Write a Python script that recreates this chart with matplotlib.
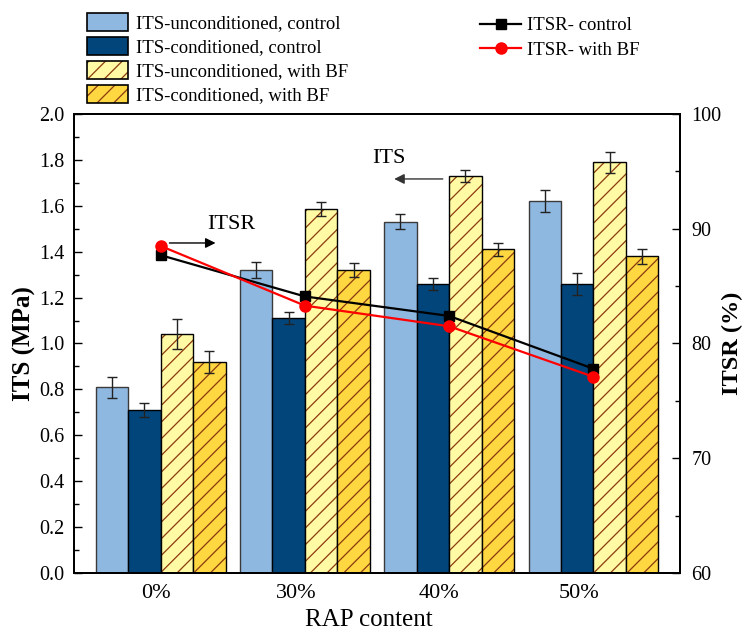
import numpy as np
import matplotlib
matplotlib.use('Agg')
import matplotlib.pyplot as plt
from matplotlib.patches import Patch
from matplotlib.lines import Line2D
from matplotlib.ticker import MultipleLocator, FormatStrFormatter

plt.rcParams['font.family'] = ['Liberation Serif', 'DejaVu Serif']
plt.rcParams['hatch.linewidth'] = 0.9

# RAP content groups
rap = ['0%', '30%', '40%', '50%']

# ITS (MPa) and std errors
its_unc_ctrl = [0.81, 1.32, 1.53, 1.62]
its_con_ctrl = [0.71, 1.11, 1.26, 1.26]
its_unc_bf = [1.04, 1.585, 1.73, 1.79]
its_con_bf = [0.92, 1.32, 1.41, 1.38]
err_unc_ctrl = [0.046, 0.033, 0.033, 0.049]
err_con_ctrl = [0.032, 0.026, 0.025, 0.047]
err_unc_bf = [0.065, 0.030, 0.026, 0.045]
err_con_bf = [0.047, 0.032, 0.030, 0.032]

# ITSR (%)
itsr_ctrl = [87.7, 84.1, 82.4, 77.8]
itsr_bf = [88.5, 83.3, 81.5, 77.1]

c_lblue = '#8fb8e0'
c_dblue = '#02457a'
c_lyel = '#fffaa3'
c_gold = '#ffd740'
c_hatch = '#8b3a10'

fig = plt.figure(figsize=(7.44, 6.32), dpi=100)
ax = fig.add_axes([0.0995, 0.0934, 0.8145, 0.7262])

x = np.arange(len(rap))
w = 0.225
ekw = dict(ecolor='#222222', elinewidth=1.0, capthick=1.0)

ax.bar(x - 1.5*w, its_unc_ctrl, w, color=c_lblue, edgecolor='#3a3a3a', linewidth=1.0,
       yerr=err_unc_ctrl, capsize=3.6, error_kw=ekw)
ax.bar(x - 0.5*w, its_con_ctrl, w, color=c_dblue, edgecolor='k', linewidth=1.0,
       yerr=err_con_ctrl, capsize=3.6, error_kw=ekw)

# hatch colour differs from the outline, so fill+hatch first, then outline on top
def hatched_bar(pos, h, err, fc):
    ax.bar(pos, h, w, color=fc, edgecolor=c_hatch, hatch='//', linewidth=0)
    ax.bar(pos, h, w, fill=False, edgecolor='k', linewidth=1.0,
           yerr=err, capsize=3.6, error_kw=ekw)

hatched_bar(x + 0.5*w, its_unc_bf, err_unc_bf, c_lyel)
hatched_bar(x + 1.5*w, its_con_bf, err_con_bf, c_gold)

ax.set_xlim(-0.6, 3.6)
ax.set_ylim(0, 2.0)
ax.yaxis.set_major_locator(MultipleLocator(0.2))
ax.yaxis.set_minor_locator(MultipleLocator(0.1))
ax.yaxis.set_major_formatter(FormatStrFormatter('%.1f'))
ax.set_xticks([-0.03, 0.94, 1.93, 2.90])
ax.set_xticklabels(rap)
ax.tick_params(axis='x', length=0, labelsize=16, pad=8)
ax.tick_params(axis='y', which='major', direction='in', length=6, width=1, labelsize=14.5, pad=7)
ax.tick_params(axis='y', which='minor', direction='in', length=3.5, width=1)
ax.set_xlabel('RAP content', fontsize=18, labelpad=4)
ax.xaxis.label.set_x(0.486)
ax.set_ylabel('ITS (MPa)', fontsize=18, fontweight='bold', labelpad=2)
for s in ax.spines.values():
    s.set_linewidth(1.4)

ax2 = ax.twinx()
ax2.plot(x, itsr_ctrl, '-s', color='k', lw=1.6, ms=7)
ax2.plot(x, itsr_bf, '-o', color='#ff0000', lw=1.6, ms=8)
ax2.set_ylim(60, 100)
ax2.yaxis.set_major_locator(MultipleLocator(10))
ax2.yaxis.set_minor_locator(MultipleLocator(5))
ax2.tick_params(axis='y', which='major', direction='in', length=6, width=1, labelsize=14.5, pad=8)
ax2.tick_params(axis='y', which='minor', direction='in', length=3.5, width=1)
ax2.set_ylabel('ITSR (%)', fontsize=17.5, fontweight='bold', labelpad=0.5)
for s in ax2.spines.values():
    s.set_linewidth(1.4)

# direction hints for the two axes
ax.annotate('', xy=(0.40, 1.438), xytext=(0.042, 1.438),
            arrowprops=dict(arrowstyle='-|>', color='k', lw=1.0, mutation_scale=15))
ax.text(0.49, 1.52, 'ITSR', fontsize=16, ha='center', va='center')
ax.annotate('', xy=(1.60, 1.717), xytext=(1.975, 1.717),
            arrowprops=dict(arrowstyle='-|>', color='#333333', lw=1.0, mutation_scale=15))
ax.text(1.58, 1.804, 'ITS', fontsize=16, ha='center', va='center')

bar_handles = [
    Patch(facecolor=c_lblue, edgecolor='k', lw=1.2),
    Patch(facecolor=c_dblue, edgecolor='k', lw=1.2),
    (Patch(facecolor=c_lyel, edgecolor=c_hatch, hatch='//', lw=0),
     Patch(fill=False, edgecolor='k', lw=1.2)),
    (Patch(facecolor=c_gold, edgecolor=c_hatch, hatch='//', lw=0),
     Patch(fill=False, edgecolor='k', lw=1.2)),
]
bar_labels = ['ITS-unconditioned, control', 'ITS-conditioned, control',
              'ITS-unconditioned, with BF', 'ITS-conditioned, with BF']
fig.legend(bar_handles, bar_labels, loc='upper left', bbox_to_anchor=(0.117, 0.979),
           frameon=False, fontsize=13.5, borderpad=0, borderaxespad=0,
           handlelength=2.2, handleheight=1.07, labelspacing=0.25, handletextpad=0.4)

line_handles = [Line2D([], [], color='k', marker='s', lw=1.6, ms=7),
                Line2D([], [], color='#ff0000', marker='o', lw=1.6, ms=8)]
fig.legend(line_handles, ['ITSR- control', 'ITSR- with BF'], loc='upper left',
           bbox_to_anchor=(0.645, 0.973), frameon=False, fontsize=13.5, borderpad=0,
           borderaxespad=0, handlelength=2.2, labelspacing=0.4, handletextpad=0.3)

fig.savefig('out.png', dpi=100)
